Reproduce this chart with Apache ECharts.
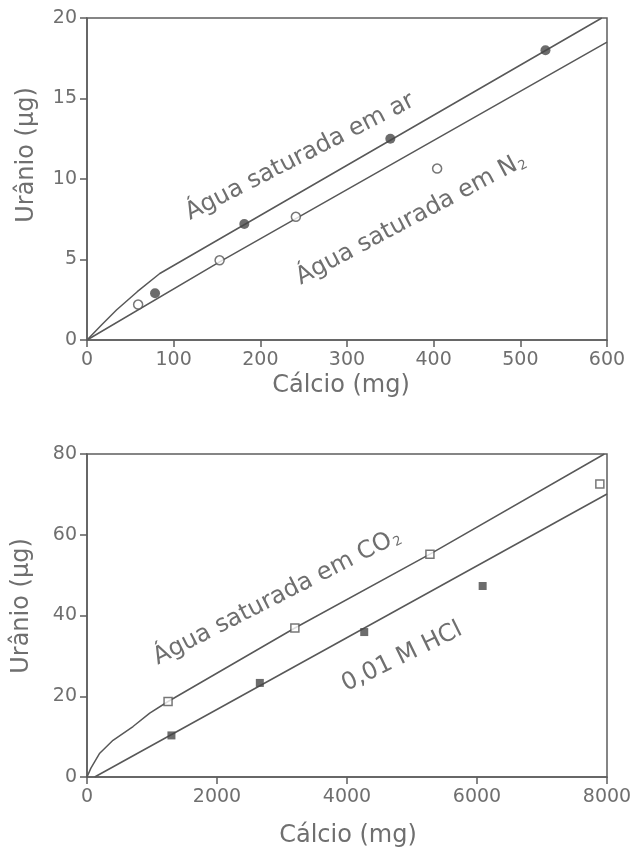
<!DOCTYPE html>
<html>
<head>
<meta charset="utf-8">
<script src="https://cdn.jsdelivr.net/npm/echarts@6/dist/echarts.min.js"></script>
<style>html,body{margin:0;padding:0;background:#fff;}#c{width:636px;height:852px;}</style>
</head>
<body>
<div id="c"></div>
<script>
// ---- data ----
const topXTicks = [0, 100, 200, 300, 400, 500, 600];
const topYTicks = [0, 5, 10, 15, 20];
const botXTicks = [0, 2000, 4000, 6000, 8000];
const botYTicks = [0, 20, 40, 60, 80];

// top panel: Água saturada em ar (filled circles) and em N2 (open circles)
const topAirCurve = [[0, 0], [17, 0.95], [34, 1.86], [58, 3.0], [84, 4.13], [594, 20]];
const topN2Line = [[0, 0], [153, 4.85], [600, 18.5]];
const topAirPts = [[78.5, 2.9], [181.5, 7.2], [350, 12.5], [529, 18.0]];
const topN2Pts = [[59, 2.2], [153, 4.95], [241, 7.65], [404, 10.65]];

// bottom panel: Água saturada em CO2 (open squares) and 0,01 M HCl (filled squares)
const botCO2Curve = [[0, 0], [60, 2.2], [196, 5.9], [400, 9.1], [708, 12.5], [965, 15.8], [1247, 18.7], [3198, 36.9], [5276, 55.2], [7960, 80]];
const botHClLine = [[118, 0], [8000, 70.1]];
const botCO2Pts = [[1247, 18.7], [3198, 36.9], [5276, 55.2], [7890, 72.6]];
const botHClPts = [[1299, 10.3], [2659, 23.3], [4265, 35.9], [6087, 47.3]];

const labels = {
  air: 'Água saturada em ar',
  n2: ['Água saturada em N', '2'],
  co2: ['Água saturada em CO', '2'],
  hcl: '0,01 M HCl',
  x: 'Cálcio (mg)',
  y: 'Urânio (µg)'
};

// ---- styling ----
const FONT = 'DejaVu Sans';
const TXT = '#6f6f6f';
const AX = '#5e5e5e';
const LN = '#585858';

function xAxis(grid, ticks) {
  return {
    type: 'value', gridIndex: grid,
    min: ticks[0], max: ticks[ticks.length - 1], interval: ticks[1] - ticks[0],
    axisLine: { show: true, onZero: false, lineStyle: { color: AX, width: 1.5 } },
    axisTick: { show: true, length: 7, lineStyle: { color: AX, width: 1.5 } },
    axisLabel: { color: TXT, fontFamily: FONT, fontSize: 19, margin: 11, formatter: v => String(v) },
    splitLine: { show: false }
  };
}
function yAxis(grid, ticks) {
  return {
    type: 'value', gridIndex: grid,
    min: ticks[0], max: ticks[ticks.length - 1], interval: ticks[1] - ticks[0],
    axisLine: { show: true, onZero: false, lineStyle: { color: AX, width: 1.5 } },
    axisTick: { show: true, length: 7, lineStyle: { color: AX, width: 1.5 } },
    axisLabel: { color: TXT, fontFamily: FONT, fontSize: 19, margin: 10, formatter: v => String(v) },
    splitLine: { show: false }
  };
}
function line(ax, data) {
  return { type: 'line', xAxisIndex: ax, yAxisIndex: ax, data: data, symbol: 'none',
    smooth: false, lineStyle: { color: LN, width: 1.5 }, z: 2, silent: true };
}
function pts(ax, data, symbol, size, filled) {
  return { type: 'scatter', xAxisIndex: ax, yAxisIndex: ax, data: data, symbol: symbol, symbolSize: size,
    itemStyle: filled ? { color: '#474747', borderColor: '#474747', borderWidth: 0 }
                      : { color: '#ffffff', borderColor: '#555', borderWidth: 1.5 }, z: 3, silent: true };
}
function txt(x, y, rotDeg, content, size) {
  return { type: 'text', x: x, y: y, rotation: rotDeg * Math.PI / 180, silent: true,
    style: { text: content, fill: TXT, font: size + 'px "' + FONT + '"', align: 'center', verticalAlign: 'middle' } };
}
const subRich = {
  m: { fill: TXT, fontFamily: FONT, fontSize: 24, verticalAlign: 'bottom' },
  s: { fill: TXT, fontFamily: FONT, fontSize: 13, verticalAlign: 'bottom', padding: [0, 0, 0, 1] }
};
function subTxt(x, y, rotDeg, parts) {
  return { type: 'text', x: x, y: y, rotation: rotDeg * Math.PI / 180, silent: true,
    style: { text: '{m|' + parts[0] + '}{s|' + parts[1] + '}', fill: TXT, align: 'center', verticalAlign: 'middle', rich: subRich } };
}

const chart = echarts.init(document.getElementById('c'), null, { renderer: 'canvas' });
chart.setOption({
  animation: false,
  backgroundColor: '#ffffff',
  grid: [
    { left: 87, top: 18, width: 520, height: 322, show: true, borderColor: AX, borderWidth: 1.5, backgroundColor: 'transparent' },
    { left: 87, top: 454, width: 520, height: 323, show: true, borderColor: AX, borderWidth: 1.5, backgroundColor: 'transparent' }
  ],
  xAxis: [xAxis(0, topXTicks), xAxis(1, botXTicks)],
  yAxis: [yAxis(0, topYTicks), yAxis(1, botYTicks)],
  series: [
    line(0, topAirCurve),
    line(0, topN2Line),
    pts(0, topAirPts, 'circle', 10, true),
    pts(0, topN2Pts, 'circle', 9, false),
    line(1, botCO2Curve),
    line(1, botHClLine),
    pts(1, botCO2Pts, 'rect', 8, false),
    pts(1, botHClPts, 'rect', 8, true)
  ],
  graphic: [
    txt(300, 157, 27, labels.air, 24),
    subTxt(411, 219, 28, labels.n2),
    subTxt(277, 597, 27, labels.co2),
    txt(402, 657, 26, labels.hcl, 24),
    txt(341, 386, 0, labels.x, 24),
    txt(348, 836, 0, labels.x, 24),
    txt(27, 155, 90, labels.y, 24),
    txt(22, 606, 90, labels.y, 24)
  ]
});
</script>
</body>
</html>
